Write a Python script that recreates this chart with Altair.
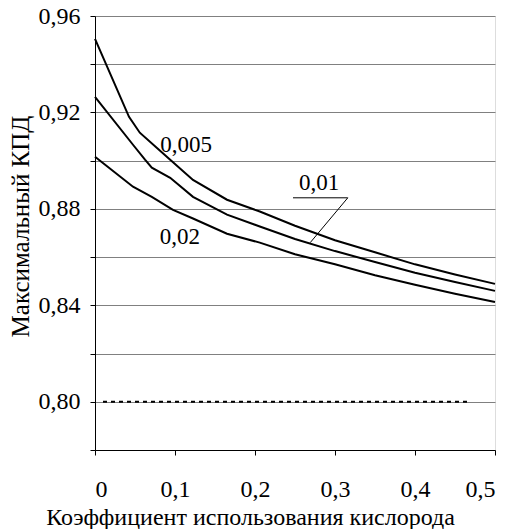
import altair as alt
import pandas as pd

# Series: oxygen utilization coefficient vs maximum efficiency
x_005 = [0, 0.0425, 0.056, 0.0775, 0.094, 0.1225, 0.165, 0.206, 0.25, 0.3, 0.35, 0.4, 0.45, 0.5]
y_005 = [0.9505, 0.9182, 0.9116, 0.9053, 0.9004, 0.892, 0.8838, 0.8789, 0.873, 0.867, 0.862, 0.857, 0.8528, 0.8489]

x_01 = [0, 0.0475, 0.0625, 0.071, 0.094, 0.1225, 0.165, 0.206, 0.25, 0.3, 0.35, 0.4, 0.45, 0.5]
y_01 = [0.9265, 0.9066, 0.9004, 0.8971, 0.8929, 0.885, 0.8776, 0.8727, 0.8675, 0.8625, 0.858, 0.8535, 0.8497, 0.846]

x_02 = [0, 0.0475, 0.071, 0.0975, 0.1225, 0.165, 0.206, 0.25, 0.3, 0.35, 0.4, 0.45, 0.5]
y_02 = [0.9016, 0.8892, 0.885, 0.8796, 0.876, 0.8697, 0.866, 0.8612, 0.857, 0.8525, 0.8485, 0.8448, 0.8414]

dash_x = [0.01, 0.465]
dash_y = [0.80, 0.80]

label_text = ["0,005", "0,01", "0,02"]
label_x = [0.114, 0.28, 0.106]
label_y = [0.9066, 0.8909, 0.8685]

leader_x = [0.2475, 0.316, 0.269]
leader_y = [0.8846, 0.8846, 0.866]

y_ticks = [0.78, 0.80, 0.82, 0.84, 0.86, 0.88, 0.90, 0.92, 0.94, 0.96]
x_ticks = [0, 0.1, 0.2, 0.3, 0.4, 0.5]

rows = []
for name, xs, ys in [("0,005", x_005, y_005), ("0,01", x_01, y_01), ("0,02", x_02, y_02)]:
    for i, (a, b) in enumerate(zip(xs, ys)):
        rows.append({"s": name, "x": a, "y": b, "o": i})
curves = pd.DataFrame(rows)
dash_df = pd.DataFrame({"x": dash_x, "y": dash_y})
lab_df = pd.DataFrame({"t": label_text, "x": label_x, "y": label_y})
lead_df = pd.DataFrame({"x": leader_x, "y": leader_y, "o": [0, 1, 2]})

FONT = "Liberation Serif"

xscale = alt.Scale(domain=[0, 0.5], nice=False, zero=False)
yscale = alt.Scale(domain=[0.78, 0.96], nice=False, zero=False)

xenc = alt.X("x:Q", scale=xscale, axis=alt.Axis(
    values=x_ticks, grid=False, domainColor="black", tickColor="black", tickSize=5,
    labelExpr="datum.value == 0 ? '0' : replace(format(datum.value, '.1f'), '.', ',')",
    labelFont=FONT, labelFontSize=24, labelColor="black", labelPadding=22,
    title="Коэффициент использования кислорода", titleFont=FONT, titleFontSize=24,
    titleFontWeight="normal", titleColor="black", titleBaseline="middle",
    titleX=155, titleY=67))
yenc = alt.Y("y:Q", scale=yscale, axis=alt.Axis(
    values=y_ticks, grid=True, gridColor="#808080", gridWidth=1,
    domainColor="black", tickColor="black", tickSize=5,
    labelExpr="round(datum.value*100) % 4 == 0 ? replace(format(datum.value, '.2f'), '.', ',') : ''",
    labelFont=FONT, labelFontSize=24, labelColor="black", labelPadding=10,
    title="Максимальный  КПД", titleFont=FONT, titleFontSize=25,
    titleFontWeight="normal", titleColor="black", titleBaseline="middle",
    titleX=-75, titleY=210))

lines = alt.Chart(curves).mark_line(color="black", strokeWidth=2).encode(
    x=xenc, y=yenc, detail="s:N", order="o:Q")

dashed = alt.Chart(dash_df).mark_line(color="black", strokeWidth=2, strokeDash=[4, 4]).encode(
    x="x:Q", y="y:Q")

leader = alt.Chart(lead_df).mark_line(color="black", strokeWidth=1).encode(
    x="x:Q", y="y:Q", order="o:Q")

labels = alt.Chart(lab_df).mark_text(font=FONT, fontSize=23, color="black").encode(
    x="x:Q", y="y:Q", text="t:N")

chart = alt.layer(lines, dashed, leader, labels).properties(
    width=400, height=434,
    autosize=alt.AutoSizeParams(type="none"),
    padding={"left": 95, "top": 16, "right": 16, "bottom": 79},
).configure_view(stroke="#808080", strokeWidth=1.5).configure(background="white")

chart.save("out.html", embed_options={"renderer": "svg", "actions": False})
